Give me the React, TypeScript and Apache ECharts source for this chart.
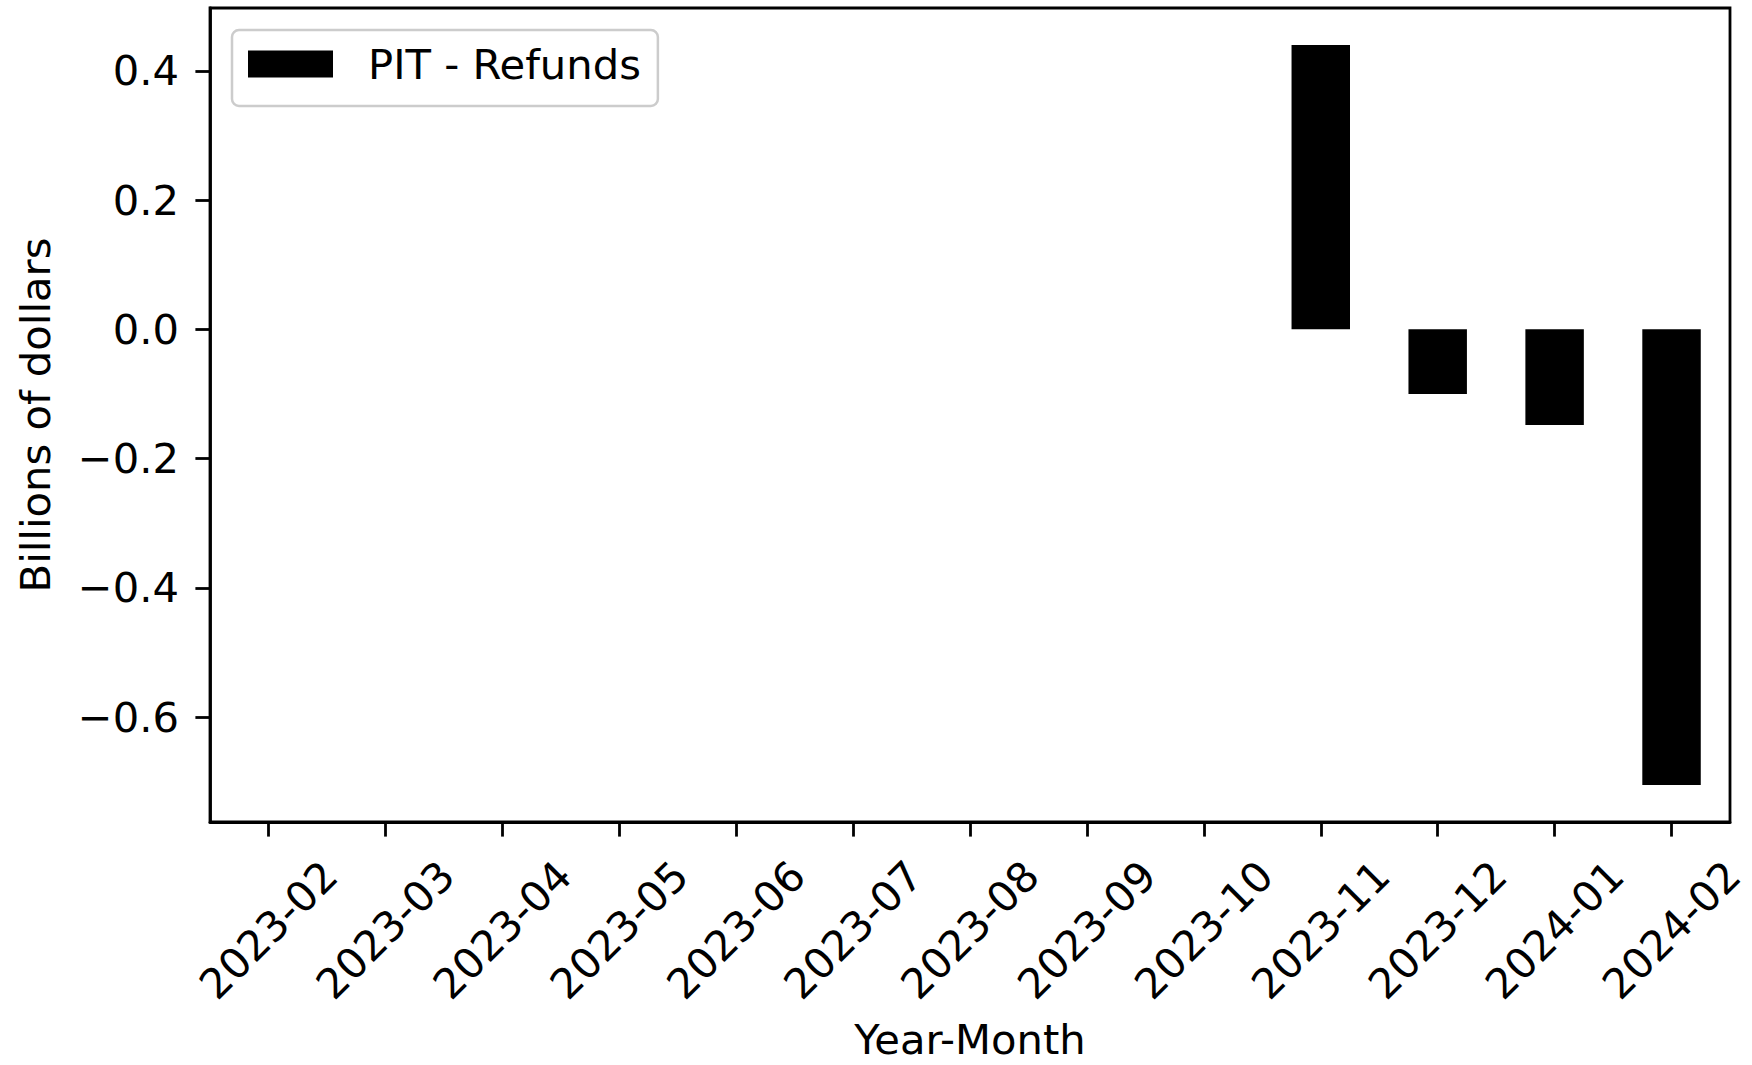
import React, { useEffect, useRef } from "react";
import * as echarts from "echarts";

const categories = [
  "2023-02", "2023-03", "2023-04", "2023-05", "2023-06", "2023-07", "2023-08",
  "2023-09", "2023-10", "2023-11", "2023-12", "2024-01", "2024-02",
];
const refunds: (number | null)[] = [
  null, null, null, null, null, null, null, null, null, 0.44, -0.1, -0.148, -0.705,
];
const yTicks = [-0.6, -0.4, -0.2, 0.0, 0.2, 0.4];
const seriesName = "PIT - Refunds";
const xTitle = "Year-Month";
const yTitle = "Billions of dollars";

const FONT = "DejaVu Sans";
const FS = 41.7;

export default function App() {
  const ref = useRef<HTMLDivElement>(null);
  useEffect(() => {
    if (!ref.current) return;
    const chart = echarts.init(ref.current, undefined, { renderer: "svg" });
    const vals = refunds.filter((v) => v !== null) as number[];
    const dMax = Math.max(0, ...vals);
    const dMin = Math.min(0, ...vals);
    const pad = (dMax - dMin) * 0.05;
    const fmt = (v: number) => {
      const s = Math.abs(v).toFixed(1);
      return v < -1e-9 ? "\u2212" + s : s;
    };
    chart.setOption({
      animation: false,
      backgroundColor: "#ffffff",
      textStyle: { fontFamily: FONT, color: "#000" },
      grid: {
        left: 210,
        right: 22,
        top: 8,
        bottom: 243,
        show: true,
        borderColor: "#000",
        borderWidth: 2.8,
        backgroundColor: "transparent",
      },
      legend: {
        left: 232,
        top: 30,
        orient: "vertical",
        data: [{ name: seriesName, icon: "rect" }],
        itemWidth: 85,
        itemHeight: 27,
        padding: [13, 17, 21, 16],
        backgroundColor: "#ffffff",
        borderColor: "#cccccc",
        borderWidth: 2.5,
        borderRadius: 7,
        textStyle: {
          fontFamily: FONT,
          fontSize: FS,
          color: "#000",
          padding: [0, 0, 0, 30],
        },
      },
      xAxis: {
        type: "category",
        data: categories,
        boundaryGap: true,
        name: xTitle,
        nameLocation: "middle",
        nameGap: 196,
        nameTextStyle: { fontFamily: FONT, fontSize: FS, color: "#000", verticalAlign: "top" },
        axisLine: { show: true, onZero: false, lineStyle: { color: "#000", width: 2.8 } },
        axisTick: { show: true, alignWithLabel: true, length: 14.6, lineStyle: { color: "#000", width: 2.8 } },
        axisLabel: {
          interval: 0,
          rotate: 45,
          align: "center",
          verticalAlign: "middle",
          margin: 108,
          fontFamily: FONT,
          fontSize: FS,
          color: "#000",
        },
        splitLine: { show: false },
      },
      yAxis: {
        type: "value",
        min: dMin - pad,
        max: dMax + pad,
        name: yTitle,
        nameLocation: "middle",
        nameGap: 154,
        nameTextStyle: { fontFamily: FONT, fontSize: FS, color: "#000" },
        axisLine: { show: true, lineStyle: { color: "#000", width: 2.8 } },
        axisTick: {
          show: true,
          length: 14.6,
          customValues: yTicks,
          lineStyle: { color: "#000", width: 2.8 },
        },
        axisLabel: {
          customValues: yTicks,
          formatter: (v: number) => fmt(v),
          margin: 31,
          fontFamily: FONT,
          fontSize: FS,
          color: "#000",
        },
        splitLine: { show: false },
      },
      series: [
        {
          name: seriesName,
          type: "bar",
          data: refunds,
          barWidth: "50%",
          itemStyle: { color: "#000" },
        },
      ],
    });
    return () => chart.dispose();
  }, []);
  return (
    <div
      ref={ref}
      style={{ position: "absolute", left: 0, top: 0, width: 1752, height: 1065 }}
    />
  );
}
